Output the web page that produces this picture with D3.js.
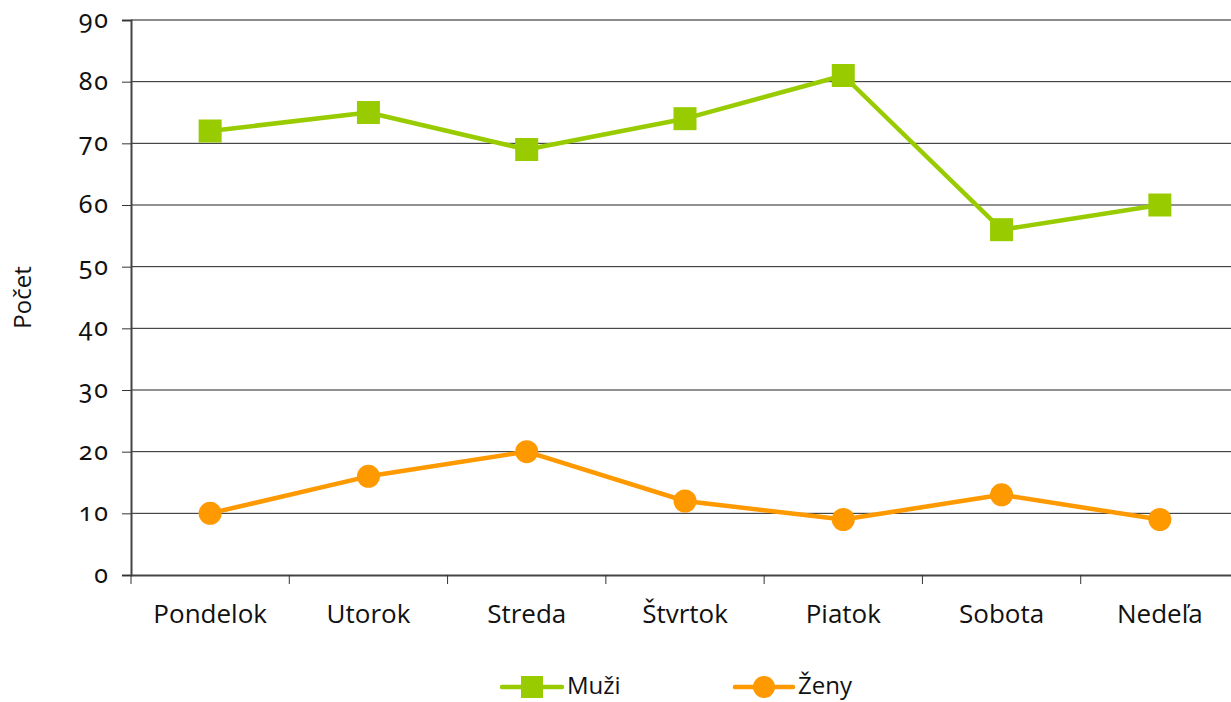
<!DOCTYPE html>
<html><head><meta charset="utf-8">
<script src="https://cdn.jsdelivr.net/npm/d3@7"></script>
<style>
html,body{margin:0;padding:0;background:#fff;}
svg{display:block;}
text{font-family:"Open Sans","Noto Sans",sans-serif;}
text.ytick{font-family:"Noto Sans","Open Sans",sans-serif;font-variant-numeric:oldstyle-nums;font-feature-settings:"onum" 1;letter-spacing:2px;}
</style></head>
<body>
<svg id="chart" width="1231" height="702"></svg>
<script>
const categories = ["Pondelok","Utorok","Streda","Štvrtok","Piatok","Sobota","Nedeľa"];
const muzi = [72,75,69,74,81,56,60];
const zeny = [10,16,20,12,9,13,9];
const yTicks = [0,10,20,30,40,50,60,70,80,90];
const seriesNames = ["Muži","Ženy"];
const colors = ["#99cc00","#ff9900"];

const svg = d3.select("#chart");
const W = 1231, H = 702;
const m = {left:131, top:20, bottom:127};
const x = d3.scaleBand().domain(categories).range([m.left, 1239]);
const y = d3.scaleLinear().domain([0,90]).range([H - m.bottom, m.top]);

// gridlines
svg.append("g").selectAll("line").data(yTicks.filter(d=>d>0)).join("line")
  .attr("x1", m.left).attr("x2", W)
  .attr("y1", d=>y(d)).attr("y2", d=>y(d))
  .attr("stroke", d=> d===90 ? "#8c8c8c" : "#222")
  .attr("stroke-width", d=> d===90 ? 2 : 1);

// y axis
const yAxis = svg.append("g").attr("transform",`translate(${m.left},0)`)
  .call(d3.axisLeft(y).tickValues(yTicks).tickSize(9).tickPadding(12));
yAxis.attr("font-family",null).attr("font-size",null);
yAxis.select(".domain").attr("stroke","#444").attr("stroke-width",2);
yAxis.selectAll(".tick line").attr("stroke","#333");
yAxis.selectAll(".tick text").attr("class","ytick").attr("font-size",25).attr("dy","0.3em").attr("fill","#111");

// x axis
const xAxis = svg.append("g").attr("transform",`translate(0,${y(0)})`)
  .call(d3.axisBottom(x).tickSize(0).tickPadding(30));
xAxis.attr("font-family",null).attr("font-size",null);
xAxis.select(".domain").attr("stroke","#444").attr("stroke-width",2);
xAxis.selectAll(".tick text").attr("font-size",26).attr("fill","#111");
// ticks at band boundaries
const bounds = categories.map(c=>x(c));
xAxis.append("g").selectAll("line").data(bounds).join("line")
  .attr("x1",d=>d).attr("x2",d=>d).attr("y1",0).attr("y2",9)
  .attr("stroke","#333").attr("stroke-width",1);

// y title
svg.append("text").attr("transform",`translate(31,${(y(0)+y(90))/2}) rotate(-90)`)
  .attr("text-anchor","middle").attr("font-size",24).attr("fill","#111").text("Počet");

const cx = d => x(d) + x.bandwidth()/2;
const line = d3.line().x((d,i)=>cx(categories[i])).y(d=>y(d));

// Muži
svg.append("path").datum(muzi).attr("d",line).attr("fill","none")
  .attr("stroke",colors[0]).attr("stroke-width",4.5).attr("stroke-linejoin","round");
svg.append("g").selectAll("rect").data(muzi).join("rect")
  .attr("x",(d,i)=>cx(categories[i])-11.5).attr("y",d=>y(d)-11.5)
  .attr("width",23).attr("height",23).attr("fill",colors[0]);

// Ženy
svg.append("path").datum(zeny).attr("d",line).attr("fill","none")
  .attr("stroke",colors[1]).attr("stroke-width",4.5).attr("stroke-linejoin","round");
svg.append("g").selectAll("circle").data(zeny).join("circle")
  .attr("cx",(d,i)=>cx(categories[i])).attr("cy",d=>y(d))
  .attr("r",11.5).attr("fill",colors[1]);

// legend
const ly = 687;
const lg = svg.append("g");
const l1 = lg.append("g").attr("transform","translate(500,0)");
l1.append("line").attr("x1",2).attr("x2",62).attr("y1",ly).attr("y2",ly)
  .attr("stroke",colors[0]).attr("stroke-width",4.5).attr("stroke-linecap","round");
l1.append("rect").attr("x",21).attr("y",ly-11).attr("width",22).attr("height",22).attr("fill",colors[0]);
l1.append("text").attr("x",67).attr("y",694).attr("font-size",24).attr("fill","#111").text(seriesNames[0]);
const l2 = lg.append("g").attr("transform","translate(733,0)");
l2.append("line").attr("x1",2).attr("x2",60).attr("y1",ly).attr("y2",ly)
  .attr("stroke",colors[1]).attr("stroke-width",4.5).attr("stroke-linecap","round");
l2.append("circle").attr("cx",31).attr("cy",ly).attr("r",11).attr("fill",colors[1]);
l2.append("text").attr("x",65).attr("y",694).attr("font-size",24).attr("fill","#111").text(seriesNames[1]);
</script>
</body></html>
